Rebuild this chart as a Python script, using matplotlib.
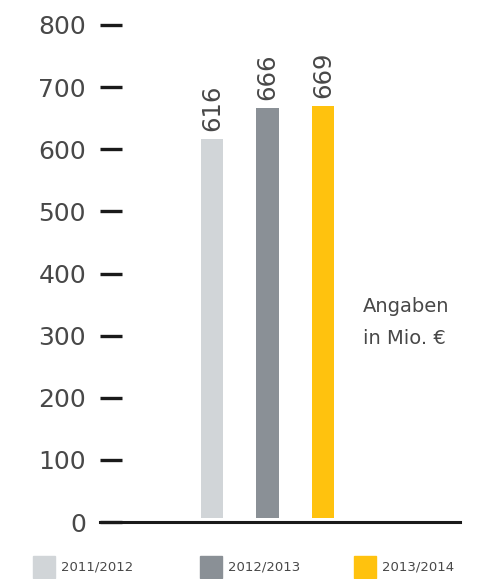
import matplotlib.pyplot as plt
from matplotlib.patches import Rectangle

# data
years = ['2011/2012', '2012/2013', '2013/2014']
values = [616, 666, 669]
colors = ['#D1D5D8', '#8A9096', '#FFC20E']
yticks = [0, 100, 200, 300, 400, 500, 600, 700, 800]

TEXT = '#484848'
plt.rcParams['font.family'] = ['DejaVu Sans']

W, H = 494, 579
fig = plt.figure(figsize=(W / 100, H / 100), dpi=100)
ax = fig.add_axes([100 / W, 1 - 522 / H, 360 / W, (522 - 25) / H])

xs = list(range(len(values)))
gap = 6  # small white gap between bars and baseline
ax.bar(xs, [v - gap for v in values], bottom=gap, width=0.4, color=colors)
for x, v in zip(xs, values):
    ax.annotate(str(v), (x, v), xytext=(0, 6), textcoords='offset points',
                rotation=90, ha='center', va='bottom', fontsize=17.5, color=TEXT)

ax.set_xlim(-2.02, 4.47)
ax.set_ylim(0, 800)
ax.set_yticks(yticks)
ax.set_xticks([])
for s in ['top', 'right', 'left']:
    ax.spines[s].set_visible(False)
ax.spines['bottom'].set_linewidth(2.2)
ax.spines['bottom'].set_color('#1a1a1a')
ax.tick_params(axis='y', direction='in', length=16, width=2.4, color='#1a1a1a',
               labelsize=18, labelcolor=TEXT, pad=10)
for t in ax.get_yticklabels():
    t.set_clip_on(False)

fig.text(363 / W, 1 - 307 / H, 'Angaben', fontsize=14, color=TEXT, va='center')
fig.text(363 / W, 1 - 338 / H, 'in Mio. €', fontsize=14, color=TEXT, va='center')

# legend
leg_x = [33, 200, 354]
for lx, lab, c in zip(leg_x, years, colors):
    fig.patches.append(Rectangle((lx / W, 1 - 578 / H), 22 / W, 22 / H,
                                 transform=fig.transFigure, color=c))
    fig.text((lx + 28) / W, 1 - 567 / H, lab, fontsize=9.5, color=TEXT, va='center')

fig.savefig('out.png', dpi=100)
